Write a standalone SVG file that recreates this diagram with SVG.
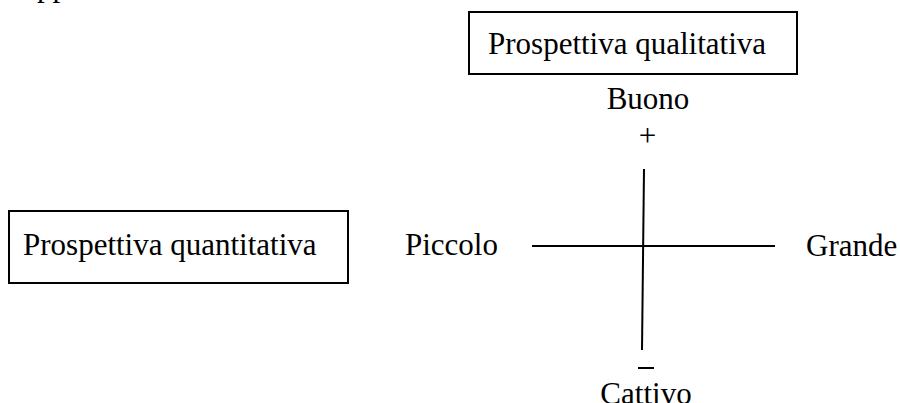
<svg xmlns="http://www.w3.org/2000/svg" width="900" height="403" viewBox="0 0 900 403">
  <style>
    text { font-family: "Liberation Serif", "Times New Roman", serif; font-size: 31px; fill: #000; }
    .box { fill: #fff; stroke: #000; stroke-width: 2; }
    .axis { stroke: #000; stroke-width: 2; fill: none; }
  </style>
  <rect width="900" height="403" fill="#fff"/>
  <text x="37" y="-4">pp</text>
  <g id="qualitativa">
    <rect class="box" x="469" y="12" width="328" height="62"/>
    <text x="488" y="54">Prospettiva qualitativa</text>
  </g>
  <g id="quantitativa">
    <rect class="box" x="9" y="211" width="339" height="72"/>
    <text x="23" y="255">Prospettiva quantitativa</text>
  </g>
  <g id="buono">
    <text x="648" y="109" text-anchor="middle">Buono</text>
    <text x="647.5" y="146" text-anchor="middle">+</text>
  </g>
  <g id="cattivo">
    <line class="axis" x1="638" y1="368" x2="654" y2="368"/>
    <text x="646" y="404" text-anchor="middle">Cattivo</text>
  </g>
  <g id="piccolo">
    <text x="405" y="255">Piccolo</text>
  </g>
  <g id="grande">
    <text x="806" y="256">Grande</text>
  </g>
  <g id="connectors">
    <line class="axis" x1="532" y1="246" x2="775" y2="246"/>
    <line class="axis" x1="644" y1="169" x2="642" y2="350"/>
  </g>
</svg>
